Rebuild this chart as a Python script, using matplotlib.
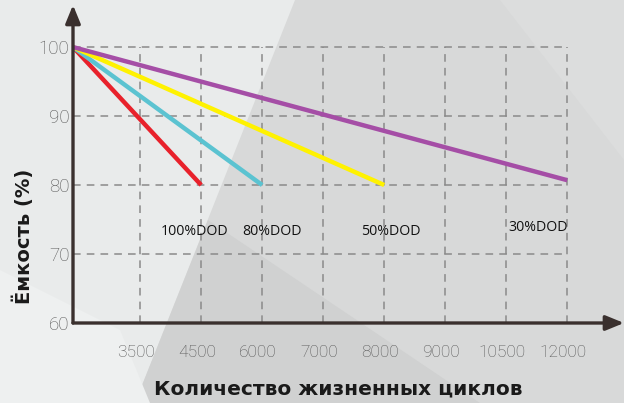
import numpy as np
import matplotlib.pyplot as plt
from matplotlib.patches import Polygon

# данные
cycle_labels = ["3500", "4500", "6000", "7000", "8000", "9000", "10500", "12000"]
capacity_ticks = [60, 70, 80, 90, 100]

series_names = ["100%DOD", "80%DOD", "50%DOD", "30%DOD"]
series_end_label = ["4500", "6000", "8000", "12000"]   # где заканчивается линия
series_start_val = [100, 100, 100, 100]
series_end_val = [80, 80, 80, 80.7]
series_colors = ["#e8212b", "#5bc3d1", "#fff200", "#a54ea6"]

X0 = -1.1        # положение оси Y в единицах категорий
XMAX = 7.93
YMIN, YMAX = 60, 106.1

W, H = 624, 403
fig = plt.figure(figsize=(W / 100, H / 100), dpi=100)
fig.patch.set_facecolor("#e9ebeb")

# фон с диагональными полосами
bg = fig.add_axes([0, 0, 1, 1], zorder=-1)
bg.set_xlim(0, W)
bg.set_ylim(H, 0)
bg.axis("off")
bg.add_patch(Polygon([(295, 0), (W, 0), (W, H), (135, H)], closed=True,
                     facecolor="#d8d9d9", edgecolor="none"))
bg.add_patch(Polygon([(208, 220), (480, H), (135, H)], closed=True,
                     facecolor="#d0d1d1", edgecolor="none"))
bg.add_patch(Polygon([(500, 0), (W, 0), (W, 160)], closed=True,
                     facecolor="#dcdddd", edgecolor="none"))
bg.add_patch(Polygon([(0, 270), (120, 330), (150, H), (0, H)], closed=True,
                     facecolor="#eef0f0", edgecolor="none"))

ax = fig.add_axes([73 / W, 1 - 323 / H, (W - 73) / W, (323 - 5) / H])
ax.set_facecolor("none")
ax.set_xlim(X0, XMAX)
ax.set_ylim(YMIN, YMAX)
for s in ax.spines.values():
    s.set_visible(False)

xpos = np.arange(len(cycle_labels))
last = xpos[-1]

# пунктирная сетка
grid_kw = dict(colors="#8a8a8a", linewidth=1.1, linestyles=(0, (5, 4)), zorder=1)
ax.hlines([v for v in capacity_ticks if v > YMIN], X0, last, **grid_kw)
ax.vlines(xpos, YMIN, max(capacity_ticks), **grid_kw)

# линии деградации
for name, end, v0, v1, c in zip(series_names, series_end_label, series_start_val,
                                series_end_val, series_colors):
    xe = cycle_labels.index(end)
    ax.plot([X0, xe], [v0, v1], color=c, linewidth=3.2, solid_capstyle="butt", zorder=3)

# подписи серий
label_pos = [(0.89, 73.3), (2.16, 73.3), (4.11, 73.3), (6.52, 73.8)]
for name, (lx, ly) in zip(series_names, label_pos):
    ax.text(lx, ly, name, ha="center", va="center", fontsize=10.2, color="#111111",
            family=["Open Sans", "DejaVu Sans"])

# оси со стрелками
axis_col = "#3a302e"
ax.annotate("", xy=(X0, YMAX), xytext=(X0, YMIN), xycoords="data",
            arrowprops=dict(arrowstyle="-|>,head_length=1.1,head_width=0.45",
                            color=axis_col, lw=2.4, shrinkA=0, shrinkB=0), zorder=4)
ax.annotate("", xy=(XMAX, YMIN), xytext=(X0, YMIN), xycoords="data",
            arrowprops=dict(arrowstyle="-|>,head_length=1.1,head_width=0.45",
                            color=axis_col, lw=2.4, shrinkA=0, shrinkB=0), zorder=4)

ax.set_xticks(xpos - 0.07)
ax.set_xticklabels(cycle_labels)
ax.set_yticks(capacity_ticks)
ax.set_yticklabels([str(v) for v in capacity_ticks])
ax.tick_params(axis="x", length=0, pad=16, labelsize=12.5, labelcolor="#555555")
ax.tick_params(axis="y", length=0, pad=2.5, labelsize=13.5, labelcolor="#555555")
for lab in ax.get_xticklabels() + ax.get_yticklabels():
    lab.set_family(["Roboto", "DejaVu Sans"])
    lab.set_fontweight("light")

fig.text(23 / W, 1 - 236 / H, "Ёмкость (%)", rotation=90, ha="center", va="center",
         fontsize=14, fontweight="bold", color="#1a1a1a")
fig.text(338 / W, 1 - 389 / H, "Количество жизненных циклов", ha="center", va="center",
         fontsize=14.5, fontweight="bold", color="#1a1a1a")

fig.savefig("out.png", dpi=100, facecolor=fig.get_facecolor())
